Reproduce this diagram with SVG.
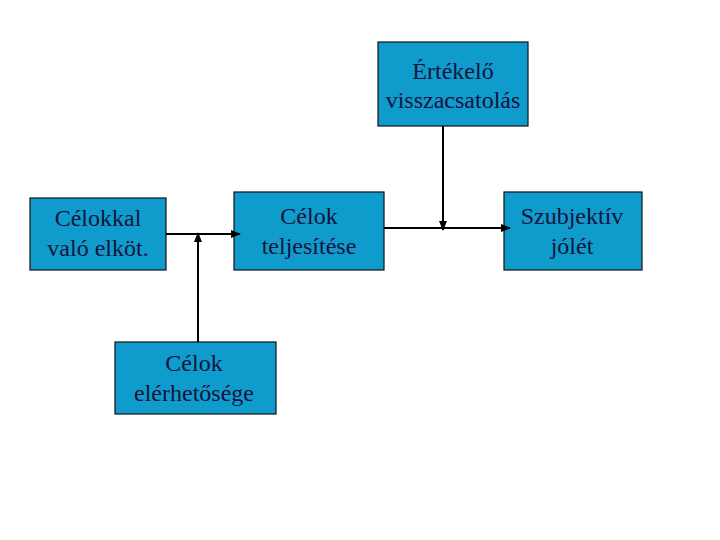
<svg xmlns="http://www.w3.org/2000/svg" width="720" height="540" viewBox="0 0 720 540">
<style>
.box{fill:#0f9bcc;stroke:#111;stroke-width:1.2}
.t{font-family:"Liberation Serif",serif;font-size:24px;fill:#14143c;text-anchor:middle}
.c{stroke:#000;stroke-width:2;fill:none}
</style>
<defs>
<marker id="ah" viewBox="0 0 10 10" refX="9" refY="5" markerWidth="5" markerHeight="5" orient="auto" markerUnits="strokeWidth">
<path d="M0,1 L10,5 L0,9 Z" fill="#000"/>
</marker>
</defs>
<rect width="720" height="540" fill="#fff"/>
<g id="ertekelo"><rect class="box" x="378" y="42" width="150" height="84"/><text class="t" x="453" y="79">Értékelő</text><text class="t" x="453" y="108">visszacsatolás</text></g>
<g id="celokkal"><rect class="box" x="30" y="198" width="136" height="72"/><text class="t" x="98" y="226">Célokkal</text><text class="t" x="98" y="256">való elköt.</text></g>
<g id="teljesitese"><rect class="box" x="234" y="192" width="150" height="78"/><text class="t" x="309" y="224">Célok</text><text class="t" x="309" y="254">teljesítése</text></g>
<g id="szubjektiv"><rect class="box" x="504" y="192" width="138" height="78"/><text class="t" x="572" y="224">Szubjektív</text><text class="t" x="572" y="254">jólét</text></g>
<g id="elerhetoseg"><rect class="box" x="115" y="342" width="161" height="72"/><text class="t" x="194" y="371">Célok</text><text class="t" x="194" y="401">elérhetősége</text></g>
<g id="connectors">
<line class="c" x1="166" y1="234" x2="240" y2="234" marker-end="url(#ah)"/>
<line class="c" x1="198" y1="342" x2="198" y2="233" marker-end="url(#ah)"/>
<line class="c" x1="384" y1="228" x2="510" y2="228" marker-end="url(#ah)"/>
<line class="c" x1="443" y1="126" x2="443" y2="230" marker-end="url(#ah)"/>
</g>
</svg>
